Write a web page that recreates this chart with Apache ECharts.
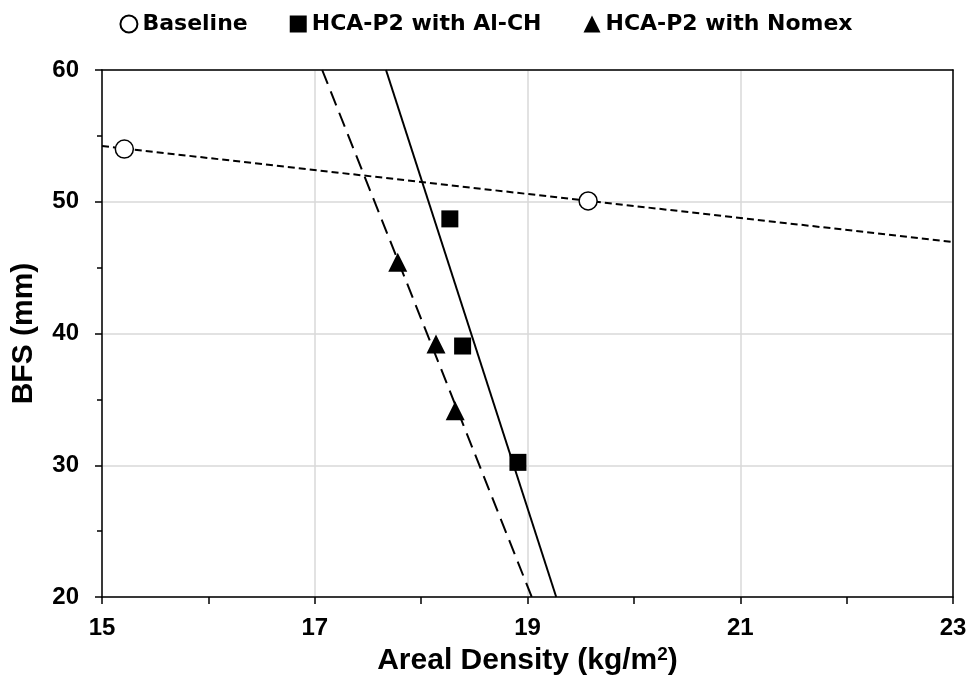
<!DOCTYPE html>
<html>
<head>
<meta charset="utf-8">
<script src="https://cdn.jsdelivr.net/npm/echarts@6/dist/echarts.min.js"></script>
<style>html,body{margin:0;padding:0;background:#fff;}#chart{width:972px;height:690px;}</style>
</head>
<body>
<div id="chart"></div>
<script>
// Data
var baselineX = [15.21, 19.57];
var baselineY = [54.0, 50.06];
var alchX = [18.27, 18.39, 18.91];
var alchY = [48.7, 39.05, 30.22];
var nomexX = [17.78, 18.14, 18.32];
var nomexY = [45.4, 39.2, 34.14];
// Trendline endpoints
var baselineFitX = [15, 23];
var baselineFitY = [54.23, 46.95];
var alchFitX = [17.67, 19.27];
var alchFitY = [60, 20];
var nomexFitX = [17.07, 19.04];
var nomexFitY = [60, 20];
var seriesNames = ['Baseline', 'HCA-P2 with Al-CH', 'HCA-P2 with Nomex'];
var xTitle = 'Areal Density (kg/m';
var yTitle = 'BFS (mm)';

function pairs(xs, ys) { return xs.map(function (x, i) { return [x, ys[i]]; }); }

var FONT = '"Liberation Sans", Arial, sans-serif';
var chart = echarts.init(document.getElementById('chart'));
var frameAxis = {
  axisLine: { show: true, lineStyle: { color: '#000', width: 1.5 } },
  axisTick: { show: false }, axisLabel: { show: false }, splitLine: { show: false }
};
chart.setOption({
  animation: false,
  backgroundColor: '#fff',
  legend: {
    data: seriesNames,
    top: 8,
    left: 'center',
    itemGap: 42,
    itemWidth: 17,
    itemHeight: 17,
    textStyle: { fontFamily: '"DejaVu Sans", sans-serif', fontWeight: 'bold', fontSize: 22, color: '#000' }
  },
  grid: { left: 102, right: 19, top: 70, bottom: 93 },
  xAxis: [{
    type: 'value', min: 15, max: 23, interval: 2,
    name: '{a|' + xTitle + '}{s|2}{a|)}', nameLocation: 'middle', nameGap: 44,
    nameTextStyle: {
      rich: {
        a: { fontFamily: FONT, fontWeight: 'bold', fontSize: 30, color: '#000', verticalAlign: 'bottom', lineHeight: 34 },
        s: { fontFamily: FONT, fontWeight: 'bold', fontSize: 19, color: '#000', verticalAlign: 'bottom', lineHeight: 34, padding: [0, 0, 12, 0] }
      }
    },
    axisLine: { show: true, lineStyle: { color: '#000', width: 1.5 } },
    axisTick: { show: true, length: 7, lineStyle: { color: '#000', width: 1.5 } },
    minorTick: { show: true, splitNumber: 2, length: 7, lineStyle: { color: '#000', width: 1.5 } },
    axisLabel: { fontFamily: FONT, fontWeight: 'bold', fontSize: 24, color: '#000', margin: 19 },
    splitLine: { show: true, lineStyle: { color: '#d9d9d9', width: 1.5 } }
  }, Object.assign({ type: 'value', min: 15, max: 23, position: 'top' }, frameAxis)],
  yAxis: [{
    type: 'value', min: 20, max: 60, interval: 10,
    name: yTitle, nameLocation: 'middle', nameGap: 63, nameRotate: 90,
    nameTextStyle: { fontFamily: FONT, fontWeight: 'bold', fontSize: 30, color: '#000' },
    axisLine: { show: true, lineStyle: { color: '#000', width: 1.5 } },
    axisTick: { show: true, length: 7, lineStyle: { color: '#000', width: 1.5 } },
    minorTick: { show: true, splitNumber: 2, length: 5, lineStyle: { color: '#000', width: 1.5 } },
    axisLabel: { fontFamily: FONT, fontWeight: 'bold', fontSize: 24, color: '#000', margin: 23 },
    splitLine: { show: true, lineStyle: { color: '#d9d9d9', width: 1.5 } }
  }, Object.assign({ type: 'value', min: 20, max: 60, position: 'right' }, frameAxis)],
  series: [
    { name: 'baselineFit', type: 'line', data: pairs(baselineFitX, baselineFitY), symbol: 'none', silent: true,
      lineStyle: { color: '#000', width: 2, type: [7, 4] }, z: 2 },
    { name: 'alchFit', type: 'line', data: pairs(alchFitX, alchFitY), symbol: 'none', silent: true,
      lineStyle: { color: '#000', width: 2, type: 'solid' }, z: 2 },
    { name: 'nomexFit', type: 'line', data: pairs(nomexFitX, nomexFitY), symbol: 'none', silent: true,
      lineStyle: { color: '#000', width: 2, type: [15, 8] }, z: 2 },
    { name: seriesNames[0], type: 'scatter', data: pairs(baselineX, baselineY), symbol: 'circle', symbolSize: 18,
      itemStyle: { color: '#fff', borderColor: '#000', borderWidth: 1.5, opacity: 1 }, z: 5 },
    { name: seriesNames[1], type: 'scatter', data: pairs(alchX, alchY), symbol: 'rect', symbolSize: 17,
      itemStyle: { color: '#000', opacity: 1 }, z: 5 },
    { name: seriesNames[2], type: 'scatter', data: pairs(nomexX, nomexY), symbol: 'triangle', symbolSize: 19,
      itemStyle: { color: '#000', opacity: 1 }, z: 5 }
  ]
});
</script>
</body>
</html>
